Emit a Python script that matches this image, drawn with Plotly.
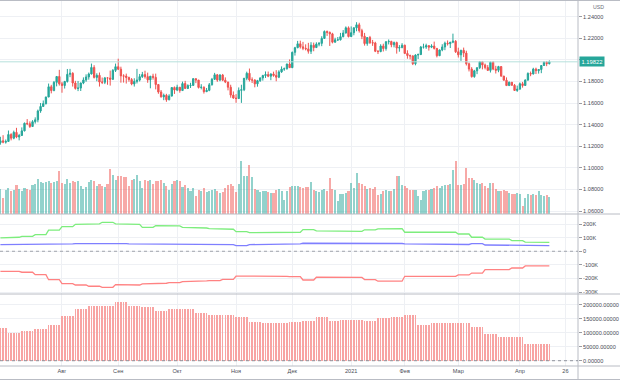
import pandas as pd
import plotly.graph_objects as go

# ---------------- data ----------------
OPEN = [1.1233, 1.1251, 1.1238, 1.1245, 1.1309, 1.1275, 1.1329, 1.1286, 1.1300, 1.1343,
        1.1413, 1.1409, 1.1383, 1.1428, 1.1445, 1.1527, 1.1569, 1.1595, 1.1656, 1.1751,
        1.1716, 1.1792, 1.1846, 1.1778, 1.1763, 1.1800, 1.1866, 1.1876, 1.1786, 1.1736,
        1.1739, 1.1786, 1.1814, 1.1842, 1.1870, 1.1930, 1.1838, 1.1857, 1.1795, 1.1793,
        1.1833, 1.1832, 1.1820, 1.1903, 1.1937, 1.1914, 1.1852, 1.1850, 1.1838, 1.1818,
        1.1777, 1.1801, 1.1813, 1.1845, 1.1864, 1.1845, 1.1815, 1.1849, 1.1838, 1.1772,
        1.1703, 1.1658, 1.1672, 1.1631, 1.1665, 1.1744, 1.1721, 1.1747, 1.1716, 1.1781,
        1.1736, 1.1762, 1.1764, 1.1826, 1.1813, 1.1745, 1.1747, 1.1706, 1.1718, 1.1769,
        1.1820, 1.1862, 1.1813, 1.1860, 1.1812, 1.1795, 1.1747, 1.1674, 1.1647, 1.1642,
        1.1718, 1.1724, 1.1830, 1.1876, 1.1814, 1.1814, 1.1778, 1.1808, 1.1833, 1.1855,
        1.1864, 1.1849, 1.1870, 1.1856, 1.1840, 1.1889, 1.1915, 1.1918, 1.1962, 1.1928,
        1.2070, 1.2113, 1.2149, 1.2121, 1.2107, 1.2102, 1.2080, 1.2136, 1.2114, 1.2146,
        1.2153, 1.2199, 1.2263, 1.2255, 1.2241, 1.2164, 1.2186, 1.2186, 1.2215, 1.2249,
        1.2297, 1.2216, 1.2252, 1.2297, 1.2325, 1.2271, 1.2219, 1.2151, 1.2207, 1.2159,
        1.2157, 1.2080, 1.2077, 1.2129, 1.2105, 1.2168, 1.2171, 1.2140, 1.2160, 1.2110,
        1.2114, 1.2136, 1.2060, 1.2040, 1.2037, 1.1965, 1.2045, 1.2050, 1.2119, 1.2119,
        1.2132, 1.2118, 1.2128, 1.2106, 1.2039, 1.2092, 1.2120, 1.2155, 1.2150, 1.2164,
        1.2173, 1.2075, 1.2047, 1.2089, 1.2063, 1.1964, 1.1915, 1.1845, 1.1899, 1.1928,
        1.1983, 1.1953, 1.1929, 1.1903, 1.1978, 1.1915, 1.1904, 1.1938, 1.1850, 1.1812,
        1.1762, 1.1793, 1.1765, 1.1717, 1.1729, 1.1779, 1.1763, 1.1813, 1.1874, 1.1870,
        1.1915, 1.1900, 1.1911, 1.1948, 1.1978, 1.1965]

HIGH = [1.1288, 1.1303, 1.1263, 1.1346, 1.1321, 1.1345, 1.1371, 1.1315, 1.1375, 1.1420,
        1.1452, 1.1431, 1.1442, 1.1468, 1.1540, 1.1601, 1.1624, 1.1660, 1.1781, 1.1769,
        1.1805, 1.1851, 1.1908, 1.1797, 1.1806, 1.1916, 1.1917, 1.1886, 1.1806, 1.1805,
        1.1790, 1.1838, 1.1866, 1.1883, 1.1966, 1.1951, 1.1876, 1.1883, 1.1837, 1.1842,
        1.1840, 1.1901, 1.1915, 1.1966, 1.2011, 1.1937, 1.1867, 1.1873, 1.1844, 1.1832,
        1.1830, 1.1917, 1.1870, 1.1889, 1.1900, 1.1882, 1.1851, 1.1872, 1.1873, 1.1777,
        1.1721, 1.1688, 1.1686, 1.1682, 1.1746, 1.1754, 1.1770, 1.1749, 1.1799, 1.1806,
        1.1774, 1.1788, 1.1831, 1.1829, 1.1815, 1.1775, 1.1755, 1.1740, 1.1786, 1.1833,
        1.1880, 1.1870, 1.1868, 1.1870, 1.1838, 1.1797, 1.1770, 1.1708, 1.1683, 1.1745,
        1.1770, 1.1832, 1.1891, 1.1920, 1.1838, 1.1820, 1.1815, 1.1838, 1.1862, 1.1893,
        1.1892, 1.1875, 1.1891, 1.1905, 1.1904, 1.1940, 1.1929, 1.1965, 1.2004, 1.2077,
        1.2121, 1.2176, 1.2178, 1.2167, 1.2144, 1.2158, 1.2164, 1.2160, 1.2163, 1.2165,
        1.2219, 1.2273, 1.2272, 1.2263, 1.2251, 1.2205, 1.2212, 1.2250, 1.2276, 1.2310,
        1.2310, 1.2310, 1.2301, 1.2349, 1.2344, 1.2288, 1.2250, 1.2210, 1.2222, 1.2185,
        1.2168, 1.2091, 1.2145, 1.2150, 1.2173, 1.2189, 1.2177, 1.2170, 1.2169, 1.2137,
        1.2155, 1.2141, 1.2089, 1.2049, 1.2042, 1.2052, 1.2059, 1.2129, 1.2150, 1.2150,
        1.2136, 1.2145, 1.2169, 1.2111, 1.2096, 1.2145, 1.2169, 1.2180, 1.2166, 1.2243,
        1.2183, 1.2113, 1.2093, 1.2114, 1.2085, 1.1976, 1.1933, 1.1908, 1.1929, 1.1990,
        1.1990, 1.1966, 1.1952, 1.1985, 1.1989, 1.1945, 1.1945, 1.1942, 1.1852, 1.1838,
        1.1800, 1.1795, 1.1777, 1.1762, 1.1791, 1.1796, 1.1820, 1.1885, 1.1892, 1.1927,
        1.1928, 1.1914, 1.1950, 1.1988, 1.1990, 1.1995]

LOW = [1.1215, 1.1228, 1.1225, 1.1241, 1.1255, 1.1265, 1.1275, 1.1255, 1.1298, 1.1338,
       1.1396, 1.1370, 1.1380, 1.1410, 1.1422, 1.1510, 1.1564, 1.1587, 1.1656, 1.1690,
       1.1710, 1.1755, 1.1762, 1.1696, 1.1735, 1.1790, 1.1840, 1.1753, 1.1725, 1.1711,
       1.1712, 1.1775, 1.1797, 1.1817, 1.1865, 1.1828, 1.1802, 1.1753, 1.1776, 1.1776,
       1.1770, 1.1762, 1.1815, 1.1888, 1.1906, 1.1789, 1.1790, 1.1781, 1.1798, 1.1765,
       1.1753, 1.1782, 1.1800, 1.1833, 1.1827, 1.1788, 1.1737, 1.1817, 1.1727, 1.1686,
       1.1651, 1.1627, 1.1612, 1.1626, 1.1662, 1.1685, 1.1711, 1.1696, 1.1713, 1.1730,
       1.1730, 1.1740, 1.1761, 1.1785, 1.1735, 1.1727, 1.1688, 1.1702, 1.1710, 1.1763,
       1.1816, 1.1797, 1.1802, 1.1803, 1.1785, 1.1718, 1.1650, 1.1640, 1.1603, 1.1639,
       1.1602, 1.1711, 1.1811, 1.1800, 1.1786, 1.1746, 1.1752, 1.1796, 1.1808, 1.1833,
       1.1840, 1.1812, 1.1844, 1.1802, 1.1831, 1.1880, 1.1899, 1.1910, 1.1925, 1.1924,
       1.2040, 1.2108, 1.2105, 1.2090, 1.2088, 1.2058, 1.2055, 1.2080, 1.2110, 1.2126,
       1.2127, 1.2194, 1.2222, 1.2129, 1.2153, 1.2160, 1.2175, 1.2180, 1.2209, 1.2244,
       1.2208, 1.2212, 1.2228, 1.2265, 1.2253, 1.2192, 1.2132, 1.2131, 1.2148, 1.2130,
       1.2072, 1.2054, 1.2071, 1.2078, 1.2086, 1.2143, 1.2117, 1.2116, 1.2058, 1.2076,
       1.2108, 1.2054, 1.2011, 1.2005, 1.1952, 1.1950, 1.2008, 1.2044, 1.2105, 1.2102,
       1.2086, 1.2109, 1.2096, 1.2023, 1.2035, 1.2080, 1.2090, 1.2133, 1.2110, 1.2155,
       1.2064, 1.2022, 1.1991, 1.2026, 1.1948, 1.1893, 1.1836, 1.1835, 1.1868, 1.1915,
       1.1912, 1.1912, 1.1897, 1.1883, 1.1905, 1.1874, 1.1886, 1.1844, 1.1810, 1.1761,
       1.1761, 1.1761, 1.1712, 1.1704, 1.1728, 1.1743, 1.1760, 1.1807, 1.1849, 1.1865,
       1.1869, 1.1873, 1.1877, 1.1945, 1.1942, 1.1958]

CLOSE = [1.1251, 1.1238, 1.1245, 1.1309, 1.1275, 1.1329, 1.1286, 1.1300, 1.1343, 1.1413,
         1.1409, 1.1383, 1.1428, 1.1445, 1.1527, 1.1569, 1.1595, 1.1656, 1.1751, 1.1716,
         1.1792, 1.1846, 1.1778, 1.1763, 1.1800, 1.1866, 1.1876, 1.1786, 1.1736, 1.1739,
         1.1786, 1.1814, 1.1842, 1.1870, 1.1930, 1.1838, 1.1857, 1.1795, 1.1793, 1.1833,
         1.1832, 1.1820, 1.1903, 1.1937, 1.1914, 1.1852, 1.1850, 1.1838, 1.1818, 1.1777,
         1.1801, 1.1813, 1.1845, 1.1864, 1.1845, 1.1815, 1.1849, 1.1838, 1.1772, 1.1703,
         1.1658, 1.1672, 1.1631, 1.1665, 1.1744, 1.1721, 1.1747, 1.1716, 1.1781, 1.1736,
         1.1762, 1.1764, 1.1826, 1.1813, 1.1745, 1.1747, 1.1706, 1.1718, 1.1769, 1.1820,
         1.1862, 1.1813, 1.1860, 1.1812, 1.1795, 1.1747, 1.1674, 1.1647, 1.1642, 1.1718,
         1.1724, 1.1830, 1.1876, 1.1814, 1.1814, 1.1778, 1.1808, 1.1833, 1.1855, 1.1864,
         1.1849, 1.1870, 1.1856, 1.1840, 1.1889, 1.1915, 1.1918, 1.1962, 1.1928, 1.2070,
         1.2113, 1.2149, 1.2121, 1.2107, 1.2102, 1.2080, 1.2136, 1.2114, 1.2146, 1.2153,
         1.2199, 1.2263, 1.2255, 1.2241, 1.2164, 1.2186, 1.2186, 1.2215, 1.2249, 1.2297,
         1.2216, 1.2252, 1.2297, 1.2325, 1.2271, 1.2219, 1.2151, 1.2207, 1.2159, 1.2157,
         1.2080, 1.2077, 1.2129, 1.2105, 1.2168, 1.2171, 1.2140, 1.2160, 1.2110, 1.2114,
         1.2136, 1.2060, 1.2040, 1.2037, 1.1965, 1.2045, 1.2050, 1.2119, 1.2119, 1.2132,
         1.2118, 1.2128, 1.2106, 1.2039, 1.2092, 1.2120, 1.2155, 1.2150, 1.2164, 1.2173,
         1.2075, 1.2047, 1.2089, 1.2063, 1.1964, 1.1915, 1.1845, 1.1899, 1.1928, 1.1983,
         1.1953, 1.1929, 1.1903, 1.1978, 1.1915, 1.1904, 1.1938, 1.1850, 1.1812, 1.1762,
         1.1793, 1.1765, 1.1717, 1.1729, 1.1779, 1.1763, 1.1813, 1.1874, 1.1870, 1.1915,
         1.1900, 1.1911, 1.1948, 1.1978, 1.1965, 1.19822]

VOLUME = [250, 160, 240, 260, 230, 240, 290, 250, 230, 260,
          250, 240, 290, 300, 350, 320, 310, 320, 330, 310,
          320, 330, 430, 310, 300, 350, 310, 330, 320, 330,
          280, 250, 270, 320, 340, 330, 280, 300, 280, 270,
          300, 450, 390, 340, 380, 380, 370, 370, 280, 340,
          350, 390, 330, 260, 340, 330, 340, 300, 330, 330,
          340, 310, 280, 240, 300, 330, 340, 330, 270, 290,
          260, 230, 260, 180, 240, 230, 260, 220, 230, 240,
          250, 230, 210, 220, 260, 290, 300, 280, 220, 300,
          530, 380, 380, 490, 370, 250, 240, 220, 230, 230,
          220, 210, 210, 240, 250, 230, 140, 230, 270, 280,
          280, 280, 270, 260, 270, 270, 320, 240, 230, 220,
          240, 250, 230, 360, 250, 240, 130, 200, 200, 210,
          230, 310, 260, 410, 310, 300, 280, 250, 260, 250,
          270, 190, 200, 230, 240, 230, 230, 250, 380, 380,
          290, 280, 260, 240, 240, 240, 180, 140, 230, 240,
          240, 250, 260, 280, 260, 280, 290, 290, 300, 440,
          530, 290, 290, 300, 460, 360, 360, 340, 310, 300,
          310, 280, 260, 310, 310, 250, 230, 230, 240, 230,
          210, 200, 200, 210, 200, 80, 160, 200, 190, 200,
          190, 230, 190, 180, 190, 170]

# weekly positioning data (thousands of contracts), one value per week
COT_LONG = [98, 103, 110, 122, 156, 181, 198, 201, 213, 201,
            198, 176, 188, 186, 176, 171, 166, 162, 144, 137,
            135, 137, 140, 159, 150, 147, 147, 147, 158, 165,
            166, 140, 140, 140, 140, 127, 103, 90, 90, 78,
            68, 66]
COT_OTHER = [49, 49, 49, 54, 54, 54, 56, 61, 59, 56,
             54, 54, 49, 49, 49, 49, 49, 49, 41, 49,
             51, 51, 54, 59, 59, 59, 59, 59, 61, 61,
             57, 54, 54, 54, 54, 50, 56, 46, 46, 46,
             42, 42]
COT_SHORT = [-147, -147, -154, -172, -209, -238, -248, -257, -265, -245,
             -248, -240, -235, -231, -223, -218, -216, -206, -182, -182,
             -179, -184, -186, -211, -191, -191, -192, -192, -208, -220,
             -220, -184, -184, -184, -184, -174, -160, -135, -135, -123,
             -108, -108]
COT_NET = [118, 100, 105, 113, 127, 161, 183, 196, 196, 211,
           195, 193, 176, 186, 186, 171, 164, 164, 155, 137,
           134, 134, 139, 143, 157, 141, 145, 144, 142, 151,
           157, 162, 129, 135, 136, 136, 120, 95, 85, 85,
           59, 59]

TICK_DATES = ["2020-07-01", "2020-08-03", "2020-09-01", "2020-10-01", "2020-11-02",
              "2020-12-01", "2021-01-04", "2021-02-01", "2021-03-01", "2021-04-01",
              "2021-04-26"]
TICK_TEXT = ["Июл", "Авг", "Сен", "Окт", "Ноя", "Дек", "2021", "Фев", "Мар", "Апр", "26"]

PRICE_TICKS = [1.06, 1.08, 1.10, 1.12, 1.14, 1.16, 1.18, 1.20, 1.22, 1.24]
LAST_PRICE = 1.19822

# ---------------- build ----------------
days = pd.bdate_range("2020-07-01", "2021-04-30")
days = days[~days.isin(pd.to_datetime(["2020-12-25", "2021-01-01"]))]
n = len(CLOSE)
dates = days[:n]
xi = list(range(n))
tick_pos = [days.get_loc(pd.Timestamp(d)) for d in TICK_DATES]

week_start = dates - pd.to_timedelta(dates.weekday, unit="D")
uniq = sorted(set(week_start))
wk = [uniq.index(w) for w in week_start]
long_d = [COT_LONG[k] * 1000 for k in wk]
other_d = [COT_OTHER[k] * 1000 for k in wk]
short_d = [COT_SHORT[k] * 1000 for k in wk]
net_d = [COT_NET[k] * 1000 for k in wk]

UP = "#26a69a"
DN = "#ef5350"
vol_colors = ["rgba(38,166,154,0.5)" if c >= o else "rgba(239,83,80,0.5)"
              for o, c in zip(OPEN, CLOSE)]

W, H = 620, 380
AX_X = 578          # x pixel of the price-scale border
PH = 366            # pixel height of the pane area (above the time scale)
p1 = [1 - 214 / PH, 1]
p2 = [1 - 294 / PH, 1 - 214 / PH]
p3 = [0, 1 - 294 / PH]
xr = [-0.15, 215.7]


def px_x(px):
    return px / AX_X


def px_y(py):
    return 1 - py / PH


fig = go.Figure()
fig.add_trace(go.Bar(x=xi, y=VOLUME, marker_color=vol_colors, marker_line_width=0,
                     width=0.78, xaxis="x", yaxis="y4", showlegend=False))
fig.add_trace(go.Candlestick(x=xi, open=OPEN, high=HIGH, low=LOW, close=CLOSE,
                             increasing=dict(line=dict(color=UP, width=1), fillcolor=UP),
                             decreasing=dict(line=dict(color=DN, width=1), fillcolor=DN),
                             whiskerwidth=0, xaxis="x", yaxis="y", showlegend=False))
fig.add_trace(go.Scatter(x=xi, y=long_d, mode="lines", line=dict(color="#7ded7d", width=1.3),
                         xaxis="x2", yaxis="y2", showlegend=False))
fig.add_trace(go.Scatter(x=xi, y=other_d, mode="lines", line=dict(color="#7f7fff", width=1.3),
                         xaxis="x2", yaxis="y2", showlegend=False))
fig.add_trace(go.Scatter(x=xi, y=short_d, mode="lines", line=dict(color="#ff8282", width=1.3),
                         xaxis="x2", yaxis="y2", showlegend=False))
fig.add_trace(go.Bar(x=xi, y=net_d, marker_color="#f8a4a3", marker_line_width=0,
                     width=0.62, xaxis="x3", yaxis="y3", showlegend=False))

grid = "#eef0f4"
tickfont = dict(size=5.6, color="#4a4d57", family="Liberation Sans")
xcommon = dict(range=xr, domain=[0, 1], tickvals=tick_pos, ticktext=TICK_TEXT,
               showgrid=True, gridcolor=grid, gridwidth=1, zeroline=False,
               showline=False, ticks="", fixedrange=True, automargin=False)
ycommon = dict(side="right", showgrid=True, gridcolor=grid, zeroline=False,
               ticks="outside", ticklen=3, tickcolor="#9a9ca3", tickfont=tickfont,
               showline=False, fixedrange=True, automargin=False)

price_text = ["" if abs(p - 1.20) < 1e-9 else f"{p:.5f}" for p in PRICE_TICKS]

fig.update_layout(
    width=W, height=H, margin=dict(l=0, r=W - AX_X, t=0, b=H - PH, pad=0),
    paper_bgcolor="white", plot_bgcolor="white",
    font=dict(family="Liberation Sans", size=6, color="#4a4d57"),
    bargap=0, boxgap=0.3, hovermode=False,
    xaxis=dict(**xcommon, anchor="y", showticklabels=False, rangeslider=dict(visible=False)),
    xaxis2=dict(**xcommon, anchor="y2", matches="x", showticklabels=False),
    xaxis3=dict(**xcommon, anchor="y3", matches="x", showticklabels=True),
    yaxis=dict(**ycommon, domain=p1, range=[1.05731, 1.25546], tickvals=PRICE_TICKS,
               ticktext=price_text),
    yaxis4=dict(overlaying="y", range=[0, 2140], visible=False, fixedrange=True),
    yaxis2=dict(**ycommon, domain=p2, range=[-314000, 274000],
                tickvals=[-300000, -200000, -100000, 0, 100000, 200000],
                ticktext=["-300K", "-200K", "-100K", "0", "100K", "200K"]),
    yaxis3=dict(**ycommon, domain=p3, range=[-18900, 238200],
                tickvals=[0, 50000, 100000, 150000, 200000], tickformat=".5f"),
)
fig.update_xaxes(tickfont=tickfont)

sep = "#b9bcc4"
shapes = []
for ypx in [0.5, 214, 294, 366, 379.5]:
    shapes.append(dict(type="line", xref="paper", yref="paper", x0=0, x1=px_x(W),
                       y0=px_y(ypx), y1=px_y(ypx), line=dict(color=sep, width=1)))
shapes.append(dict(type="line", xref="paper", yref="paper", x0=1, x1=1,
                   y0=px_y(H), y1=1, line=dict(color=sep, width=1)))
shapes.append(dict(type="line", xref="paper", yref="y2", x0=0, x1=1, y0=0, y1=0,
                   line=dict(color="#a0a3ab", width=1, dash="dot")))
shapes.append(dict(type="line", xref="paper", yref="y3", x0=0, x1=1, y0=0, y1=0,
                   line=dict(color="#8f929b", width=1, dash="dot")))
shapes.append(dict(type="line", xref="paper", yref="y", x0=0, x1=1,
                   y0=LAST_PRICE, y1=LAST_PRICE, line=dict(color="#b7e1dc", width=1)))
fig.update_layout(shapes=shapes)

fig.add_annotation(xref="paper", yref="y", x=px_x(AX_X + 1), y=LAST_PRICE, xanchor="left",
                   yanchor="middle", text="1.19822", showarrow=False, bgcolor=UP,
                   font=dict(size=5.8, color="white", family="Liberation Sans"),
                   borderpad=1.5)
fig.add_annotation(xref="paper", yref="paper", x=px_x(598), y=px_y(7), xanchor="center",
                   yanchor="middle", text="USD", showarrow=False,
                   font=dict(size=5.2, color="#6a6d78", family="Liberation Sans"))

fig.write_html("out.html", config={"displayModeBar": False, "staticPlot": True},
               post_script="document.body.style.margin='0';"
                           "document.body.style.overflow='hidden';")
